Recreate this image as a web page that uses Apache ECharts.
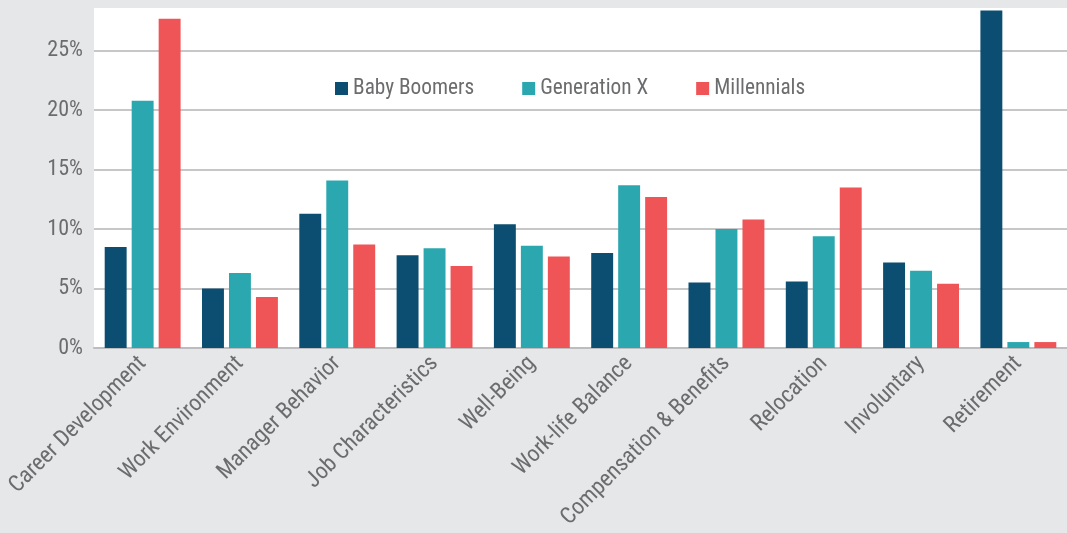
<!DOCTYPE html>
<html>
<head>
<meta charset="utf-8">
<script src="https://cdn.jsdelivr.net/npm/echarts@6/dist/echarts.min.js"></script>
<style>
  html, body { margin: 0; padding: 0; background: #e6e7e9; }
  #bar { width: 1067px; height: 533px; }
</style>
</head>
<body>
<div id="bar"></div>
<script>
var categories = ['Career Development', 'Work Environment', 'Manager Behavior', 'Job Characteristics',
    'Well-Being', 'Work-life Balance', 'Compensation & Benefits', 'Relocation', 'Involuntary', 'Retirement'];
var babyBoomers = [8.5, 5.0, 11.3, 7.8, 10.4, 8.0, 5.5, 5.6, 7.2, 28.4];
var generationX = [20.8, 6.3, 14.1, 8.4, 8.6, 13.7, 10.0, 9.4, 6.5, 0.5];
var millennials = [27.7, 4.3, 8.7, 6.9, 7.7, 12.7, 10.8, 13.5, 5.4, 0.5];
var yTicks = [0, 5, 10, 15, 20, 25];

var font = "'Roboto Condensed', 'Liberation Sans Narrow', 'DejaVu Sans Condensed', Roboto, sans-serif";
var textColor = '#6b6c6e';

var dom = document.getElementById('bar');
var myChart = echarts.init(dom);

option = {
    backgroundColor: '#e6e7e9',
    color: ['#0c4e71', '#2ba8af', '#ef5457'], // 柱子颜色
    textStyle: { fontFamily: font },
    legend: {
        left: 335,
        top: 78,
        padding: 0,
        itemWidth: 13,
        itemHeight: 13,
        itemGap: 48,
        icon: 'rect',
        textStyle: { color: textColor, fontSize: 21.3, fontFamily: font },
        data: ['Baby Boomers', 'Generation X', 'Millennials']
    },
    grid: {
        show: true,
        backgroundColor: '#ffffff', // 白色绘图区
        borderWidth: 0,
        left: 94,
        right: 0,
        top: 8,
        bottom: 185
    },
    xAxis: {
        type: 'category',
        data: categories,
        axisTick: { show: false },
        axisLine: { lineStyle: { color: '#bdbdbf', width: 2 } },
        axisLabel: {
            interval: 0,
            rotate: 45,
            margin: 12,
            color: textColor,
            fontSize: 23,
            fontFamily: font
        }
    },
    yAxis: {
        type: 'value',
        min: 0,
        max: 28.6,
        interval: 5,
        axisLine: { show: false },
        axisTick: { show: false },
        axisLabel: {
            margin: 11,
            color: textColor,
            fontSize: 22,
            fontFamily: font,
            showMaxLabel: false,
            formatter: function (v) {
                return yTicks.indexOf(v) >= 0 ? v + '%' : '';
            }
        },
        splitLine: {
            showMaxLine: false,
            lineStyle: { color: '#b4b4b6', width: 1.5 }
        }
    },
    series: [
        {
            name: 'Baby Boomers',
            type: 'bar',
            barGap: '23%',
            barCategoryGap: '22%',
            data: babyBoomers
        },
        {
            name: 'Generation X',
            type: 'bar',
            data: generationX
        },
        {
            name: 'Millennials',
            type: 'bar',
            data: millennials
        }
    ]
};
if (option && typeof option === "object") {
    myChart.setOption(option, true);
}
</script>
</body>
</html>
